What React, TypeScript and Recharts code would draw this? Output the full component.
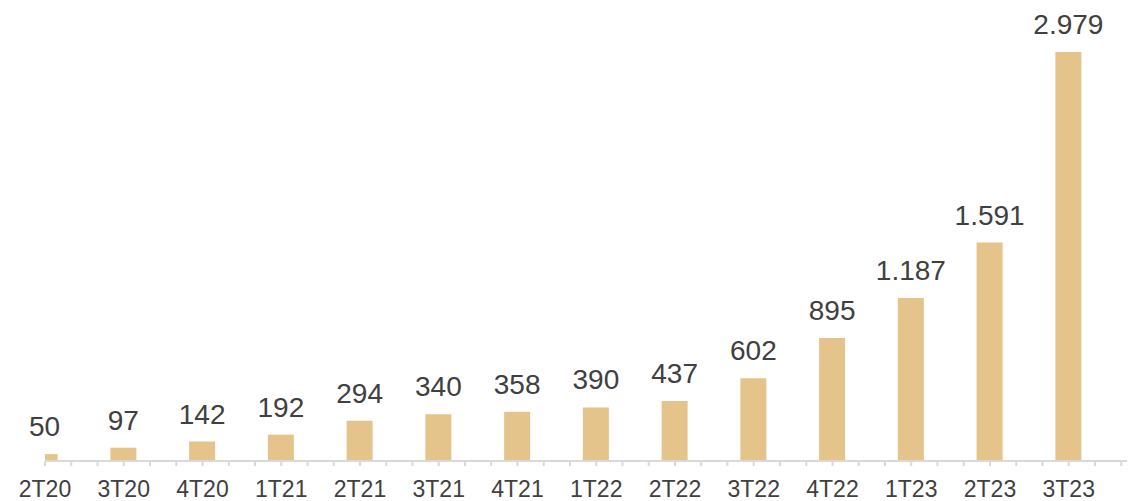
import { BarChart, Bar, XAxis, YAxis, LabelList } from "recharts";

const categories = [
  "2T20", "3T20", "4T20", "1T21", "2T21", "3T21", "4T21",
  "1T22", "2T22", "3T22", "4T22", "1T23", "2T23", "3T23",
];
const values = [50, 97, 142, 192, 294, 340, 358, 390, 437, 602, 895, 1187, 1591, 2979];

const data = categories.map((quarter, i) => ({ pos: i, quarter, value: values[i] }));

// minor ticks every third of a category, labels only on whole positions
const ticks: number[] = [];
for (let k = 0; k <= (categories.length - 1) * 3 + 2; k++) ticks.push(k / 3);

const formatThousands = (v: number) =>
  String(v).replace(/\B(?=(\d{3})+(?!\d))/g, ".");

export default function App() {
  return (
    <div style={{ position: "absolute", left: 0, top: 0, fontFamily: "Arial, 'Liberation Sans', sans-serif" }}>
      <BarChart
        width={1128}
        height={501}
        data={data}
        margin={{ top: 52, right: 1, left: 45, bottom: 0 }}
      >
        <XAxis
          dataKey="pos"
          type="number"
          domain={[0, 13.74]}
          ticks={ticks}
          interval={0}
          allowDataOverflow
          height={40}
          tickSize={5}
          tickMargin={15}
          axisLine={{ stroke: "#d9d9d9", strokeWidth: 2 }}
          tickLine={{ stroke: "#d9d9d9", strokeWidth: 2 }}
          tick={{ fill: "#404040", fontSize: 23 }}
          tickFormatter={(v: number) => {
            const i = Math.round(v);
            return Math.abs(v - i) < 1e-6 ? categories[i] ?? "" : "";
          }}
        />
        <YAxis hide domain={[0, "dataMax"]} />
        <Bar dataKey="value" fill="#E4C48A" barSize={26} isAnimationActive={false}>
          <LabelList
            dataKey="value"
            position="top"
            offset={18}
            fill="#404040"
            fontSize={28}
            formatter={(v: number) => formatThousands(v)}
          />
        </Bar>
      </BarChart>
    </div>
  );
}
